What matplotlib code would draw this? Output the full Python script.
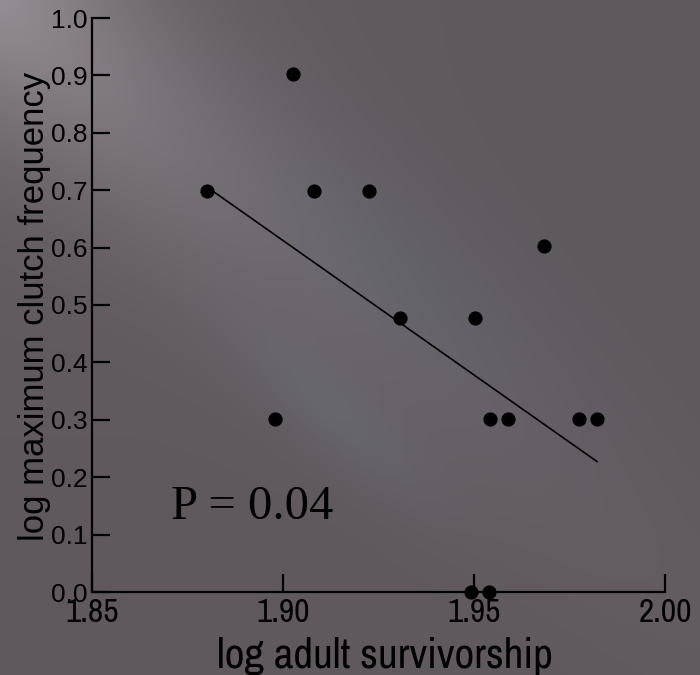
import numpy as np
import matplotlib.pyplot as plt

# log adult survivorship vs log maximum clutch frequency
survivorship = [1.880, 1.9026, 1.898, 1.908, 1.9225, 1.9306, 1.9503,
                1.9542, 1.9589, 1.9683, 1.9775, 1.9822, 1.9492, 1.9539]
clutch_freq = [0.699, 0.903, 0.301, 0.699, 0.699, 0.477, 0.477,
               0.301, 0.301, 0.602, 0.301, 0.301, 0.0, 0.0]
x_ticks = [1.85, 1.90, 1.95, 2.00]
x_ticklabels = ['1.85', '1.90', '1.95', '2.00']
y_ticks = [0.0, 0.1, 0.2, 0.3, 0.4, 0.5, 0.6, 0.7, 0.8, 0.9, 1.0]
p_text = 'P = 0.04'

narrow = ['Archivo Narrow', 'Liberation Sans', 'DejaVu Sans']
sans = ['Liberation Sans', 'DejaVu Sans']

W, H = 700, 675
fig = plt.figure(figsize=(W / 100, H / 100), dpi=100)

# slide-style gray background with soft light streaks
yy, xx = np.mgrid[0:H, 0:W].astype(float)
img = np.zeros((H, W, 3))
img[:] = np.array([95, 89, 93]) / 255.0
d = np.hypot(xx, yy)
ang = np.array([0.75, 0.66])
along = xx * ang[0] + yy * ang[1]
perp = -xx * ang[1] + yy * ang[0]
glow = 0.15 * np.exp(-(perp / 110.0) ** 2) * np.exp(-along / 380.0)
glow += 0.06 * np.exp(-d / 160.0)
img += glow[..., None] * np.array([1.0, 1.0, 1.03])
band = np.exp(-((perp + 60) / 90.0) ** 2) * np.exp(-((along - 480) / 220.0) ** 2)
img += 0.03 * band[..., None] * np.array([-0.3, 0.2, 0.6])
band2 = np.exp(-((perp - 90) / 35.0) ** 2) * np.exp(-((along - 520) / 120.0) ** 2)
img += 0.05 * band2[..., None] * np.array([0.2, 0.6, 0.8])
img = np.clip(img, 0, 1)

bg = fig.add_axes([0, 0, 1, 1], zorder=-10)
bg.imshow(img, aspect='auto', extent=[0, 1, 0, 1])
bg.axis('off')

ax = fig.add_axes([92 / W, 1 - 592 / H, (665 - 92) / W, (592 - 18) / H])
ax.patch.set_alpha(0)

ax.scatter(survivorship, clutch_freq, s=85, color='black', zorder=3,
           clip_on=False)
slope, icpt = np.polyfit(survivorship, clutch_freq, 1)
xl = np.array([min(survivorship), max(survivorship)])
ax.plot(xl, slope * xl + icpt, color='black', lw=1.2)

ax.set_xlim(1.85, 2.00)
ax.set_ylim(0, 1.0)
for s in ['top', 'right']:
    ax.spines[s].set_visible(False)
for s in ['left', 'bottom']:
    ax.spines[s].set_linewidth(1.6)

ax.set_xticks(x_ticks)
ax.set_xticklabels(x_ticklabels, family=narrow, fontsize=24)
ax.set_yticks(y_ticks)
ax.set_yticklabels(['%.1f' % v for v in y_ticks], family=sans, fontsize=19)
ax.tick_params(axis='both', direction='in', length=13, width=1.6,
               color='black', labelcolor='black')
ax.tick_params(axis='x', pad=4)
ax.tick_params(axis='y', pad=3)

fig.text(35 / W, 1 - 306 / H, 'log maximum clutch frequency', rotation=90,
         ha='center', va='center', fontsize=25, family=sans)
fig.text(385 / W, 1 - 668 / H, 'log adult survivorship', ha='center',
         va='baseline', fontsize=31, family=narrow)
ax.text(1.892, 0.148, p_text, ha='center', va='center', fontsize=35,
        family=['Liberation Serif', 'DejaVu Serif'])

fig.savefig('out.png', dpi=100)
